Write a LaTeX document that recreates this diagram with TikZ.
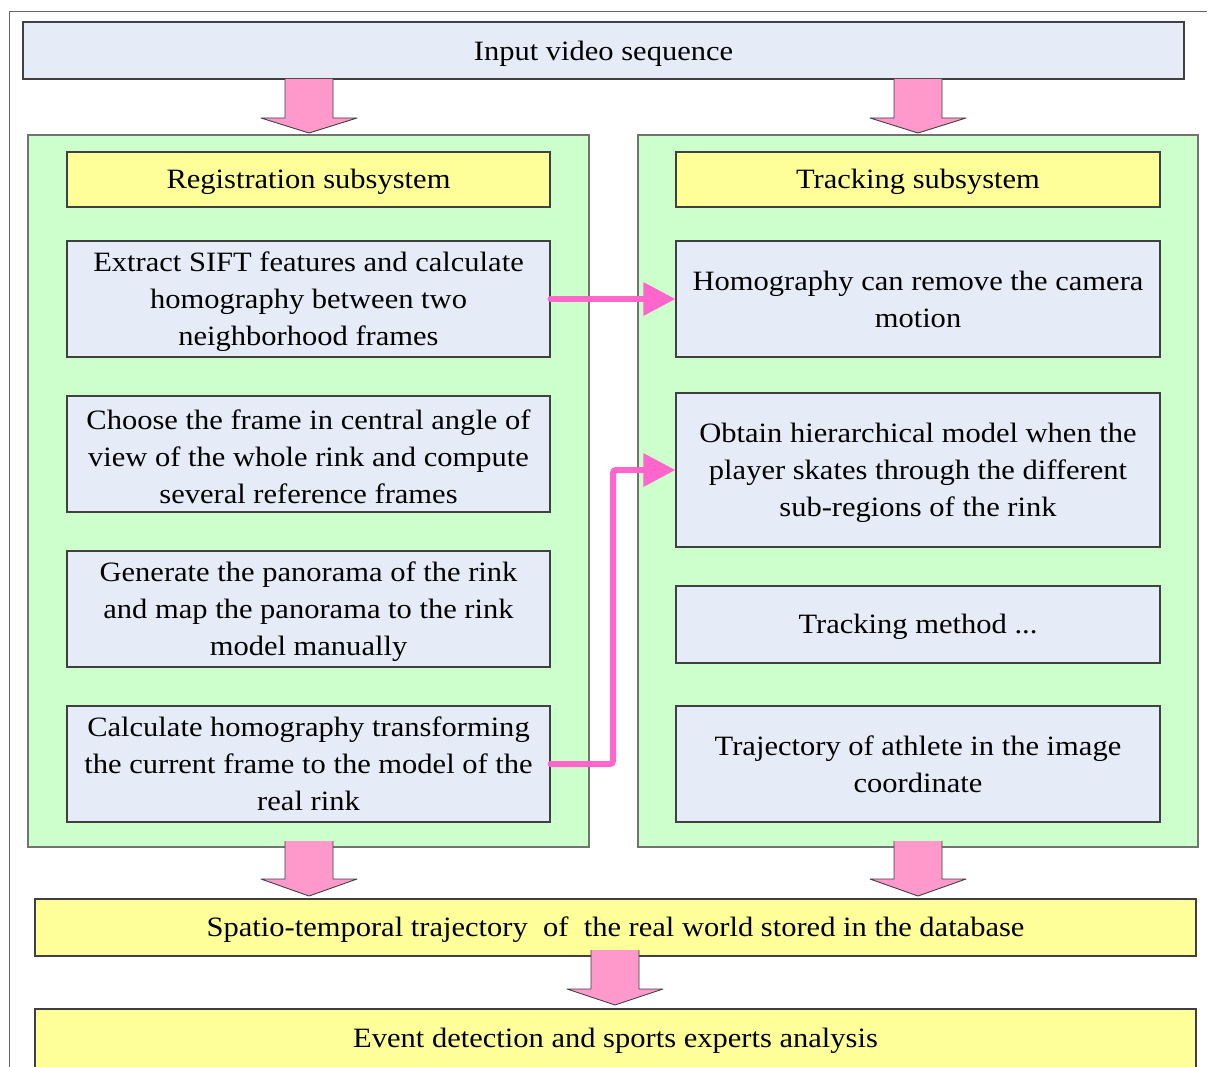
\documentclass[tikz,border=0pt]{standalone}
\usepackage{fontspec}
\setmainfont{Liberation Serif}[FakeStretch=1.09]
\usetikzlibrary{arrows.meta}

\definecolor{boxblue}{HTML}{E6ECF7}
\definecolor{panelgreen}{HTML}{CCFFCC}
\definecolor{titleyellow}{HTML}{FFFF99}
\definecolor{arrowpink}{HTML}{FF99CC}
\definecolor{linkpink}{HTML}{FF66CC}

% taller first line, so the text sits a little lower in its box
\newcommand{\lift}{\rule{0pt}{25pt}}

\tikzset{
  stepbox/.style={draw=black!75, line width=1.1pt, fill=boxblue, align=center,
    inner sep=0pt, font=\fontsize{28}{37}\selectfont},
  titlebox/.style={stepbox, fill=titleyellow},
  panel/.style={draw=black!55, line width=1.1pt, fill=panelgreen, inner sep=0pt},
  link/.style={draw=linkpink, line width=6pt, line cap=round, rounded corners=3pt,
    -{Triangle[length=32pt,width=32pt]}},
}

% fat down arrow: x, top y, tip y, head length
\newcommand{\fatarrow}[4]{%
  \fill[arrowpink] (#1-24,#2) -- (#1+24,#2) -- (#1+24,#3-#4) -- (#1+48,#3-#4)
    -- (#1,#3) -- (#1-48,#3-#4) -- (#1-24,#3-#4) -- cycle;
  \draw[black!75, line width=0.9pt, line join=round] (#1+24,#2) -- (#1+24,#3-#4)
    -- (#1+48,#3-#4) -- (#1,#3) -- (#1-48,#3-#4) -- (#1-24,#3-#4) -- (#1-24,#2);
}

\begin{document}
\begin{tikzpicture}[x=1pt, y=-1pt]

    \useasboundingbox (0,0) rectangle (1210,1067);

    % --- Outer frame ---
    \draw[black!60, line width=1pt] (1207,12) -- (9,12) -- (9,1067);

    % --- Input ---
    \node[stepbox, minimum width=1161pt, minimum height=57pt] (input) at (603.5,50.5)
      {\lift Input video sequence};

    % --- Two subsystem panels ---
    \node[panel, minimum width=561pt, minimum height=712pt] (regpanel) at (308.5,491) {};
    \node[panel, minimum width=560pt, minimum height=712pt] (trkpanel) at (918,491) {};

    % Arrows from the input down to the panels
    \fatarrow{309}{79}{133}{15}
    \fatarrow{918}{79}{133}{15}

    % --- Registration subsystem ---
    \node[titlebox, minimum width=483pt, minimum height=55pt] (regtitle) at (308.5,179.5)
      {\lift Registration subsystem};
    \node[stepbox, minimum width=483pt, minimum height=116pt] (sift) at (308.5,299)
      {\lift Extract SIFT features and calculate\\homography between two\\neighborhood frames};
    \node[stepbox, minimum width=483pt, minimum height=116pt] (ref) at (308.5,454)
      {\lift Choose the frame in central angle of\\view of the whole rink and compute\\several reference frames};
    \node[stepbox, minimum width=483pt, minimum height=116pt] (pano) at (308.5,609)
      {\lift Generate the panorama of the rink\\and map the panorama to the rink\\model manually};
    \node[stepbox, minimum width=483pt, minimum height=116pt] (model) at (308.5,764)
      {Calculate homography transforming\\the current frame to the model of the\\real rink};

    % --- Tracking subsystem ---
    \node[titlebox, minimum width=484pt, minimum height=55pt] (trktitle) at (918,179.5)
      {\lift Tracking subsystem};
    \node[stepbox, minimum width=484pt, minimum height=116pt] (camera) at (918,299)
      {Homography can remove the camera\\motion};
    \node[stepbox, minimum width=484pt, minimum height=154pt] (hier) at (918,470)
      {\lift Obtain hierarchical model when the\\player skates through the different\\sub-regions of the rink};
    \node[stepbox, minimum width=484pt, minimum height=77pt] (method) at (918,624.5)
      {\lift Tracking method ...};
    \node[stepbox, minimum width=484pt, minimum height=116pt] (traj) at (918,764)
      {Trajectory of athlete in the image\\coordinate};

    % --- Links between the subsystems ---
    \coordinate (bend) at (613,0);
    \draw[link] (sift.east) -- (camera.west);
    \draw[link] (model.east) -- (model.east -| bend) |- (hier.west);

    % --- Output ---
    \node[titlebox, minimum width=1161pt, minimum height=57pt] (store) at (615.5,927.5)
      {\lift Spatio-temporal trajectory~ of~ the real world stored in the database};
    \node[titlebox, minimum width=1161pt, minimum height=59pt] (event) at (615.5,1038.5)
      {\lift Event detection and sports experts analysis};

    % Arrows from the panels down to the output
    \fatarrow{309}{841}{896}{17}
    \fatarrow{918}{841}{896}{17}
    \fatarrow{615}{950}{1005}{16}

\end{tikzpicture}
\end{document}
